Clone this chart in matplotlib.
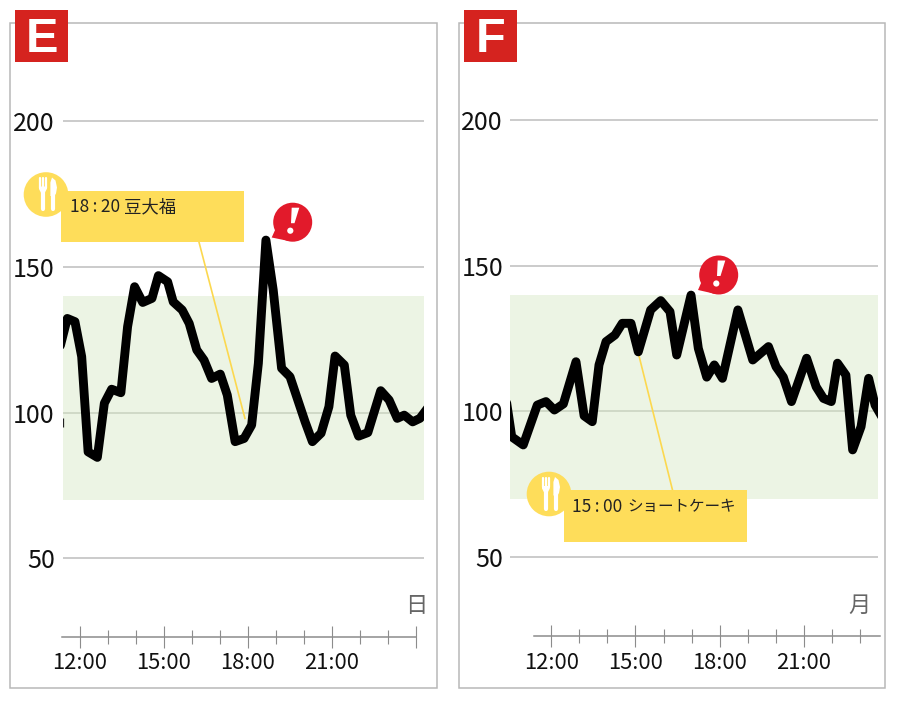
import numpy as np
import matplotlib
matplotlib.use("Agg")
import matplotlib.pyplot as plt
from matplotlib.patches import Circle, Polygon, Rectangle

plt.rcParams['font.family'] = ['Noto Sans CJK JP', 'DejaVu Sans']

# ---- data (hour of day, mg/dL) ----
e_hours = [11.30, 11.546, 11.82, 12.06, 12.29, 12.62, 12.87, 13.13, 13.46, 13.70, 13.95, 14.24, 14.57,
           14.80, 15.13, 15.33, 15.65, 15.90, 16.17, 16.43, 16.70, 17.01, 17.26, 17.54, 17.86, 18.13,
           18.37, 18.64, 18.90, 19.20, 19.50, 20.04, 20.30, 20.61, 20.89, 21.11, 21.44, 21.67, 21.95,
           22.28, 22.74, 23.04, 23.33, 23.58, 23.88, 24.14, 24.5]
e_values = [123, 132.3, 131.2, 119.2, 86.5, 84.6, 103.2, 108, 106.8, 129.5, 143.2, 137.8, 139.2,
            147, 144.9, 138, 135.2, 130.6, 121.5, 118, 111.7, 113.2, 106, 90, 91.1, 95.7,
            116.9, 159.2, 142.1, 115.2, 112.3, 96.8, 90, 92.9, 102, 119.4, 116.3, 99.1, 91.9,
            93.1, 107.5, 104.3, 98, 99.1, 96.8, 98, 102.6]
f_hours = [10.41, 10.59, 11.0, 11.5, 11.81, 12.11, 12.43, 12.88, 13.17, 13.46, 13.70, 13.95, 14.27,
           14.53, 14.84, 15.10, 15.54, 15.90, 16.23, 16.47, 16.98, 17.24, 17.54, 17.81, 18.10, 18.65,
           19.18, 19.74, 20.01, 20.27, 20.56, 21.10, 21.44, 21.70, 21.98, 22.20, 22.50, 22.74, 23.04,
           23.31, 23.54, 23.78]
f_values = [102.9, 91.3, 88.5, 102.2, 103.4, 100.5, 102.6, 117.1, 98.5, 96.5, 116, 124, 126.3,
            130.3, 130.3, 120.5, 134.9, 138.1, 134.3, 119.4, 140, 121.7, 111.8, 116, 111.4, 134.9,
            117.7, 122.3, 115.4, 111.8, 103.4, 118.3, 108.5, 104.5, 103.4, 116.6, 112.5, 86.8, 94.8,
            111.4, 102.2, 98.2]
y_ticks = [50, 100, 150, 200]
target_range = (70, 140)
major_hours = [12, 15, 18, 21]
major_labels = ['12:00', '15:00', '18:00', '21:00']
panel_letters = ['E', 'F']
day_labels = ['日', '月']
meal_times = ['18\u2009:\u200920', '15\u2009:\u200900']
meal_names = ['豆大福', 'ショートケーキ']

W, H = 897, 702
YEL = '#fedd5a'
RED = '#e21a2b'
fig = plt.figure(figsize=(W / 100, H / 100), dpi=100, facecolor='white')


def make_axes(left, right, top, bottom, xlim, ylim, spine_y, bounds, minors, majors, labels, ypad):
    ax = fig.add_axes([left / W, 1 - bottom / H, (right - left) / W, (bottom - top) / H])
    ax.patch.set_alpha(0)
    ax.set_xlim(*xlim)
    ax.set_ylim(*ylim)
    for s in ('top', 'left', 'right'):
        ax.spines[s].set_visible(False)
    sp = ax.spines['bottom']
    sp.set_position(('data', spine_y))
    sp.set_bounds(*bounds)
    sp.set_color('#8c8c8c')
    sp.set_linewidth(1.1)
    ax.set_xticks(majors)
    ax.set_xticklabels(labels, fontsize=15.8, color='#111111')
    ax.set_xticks(minors, minor=True)
    ax.tick_params(axis='x', which='major', direction='inout', length=16.5, width=0.8, color='#8c8c8c', pad=3.2)
    ax.tick_params(axis='x', which='minor', direction='inout', length=9.5, width=0.8, color='#8c8c8c')
    ax.set_yticks(y_ticks)
    ax.set_yticklabels([str(v) for v in y_ticks], fontsize=18, color='#111111')
    ax.tick_params(axis='y', length=0, pad=ypad)
    ax.set_axisbelow(True)
    ax.grid(axis='y', color='#bdbdbd', lw=1.1, zorder=1)
    ax.yaxis.get_gridlines()[1].set_color('#c8d1bf')
    ax.axhspan(*target_range, color='#ecf4e4', lw=0, zorder=0.5)
    return ax


ax_e = make_axes(63, 424, 100, 660, (11.393, 24.286), (15.04, 207.3), 23.1, (11.375, 24.0),
                 [h for h in range(13, 24) if h % 3], major_hours + [24], major_labels + [''], 6)
ax_f = make_axes(510, 878, 100, 660, (10.528, 23.644), (14.6, 207.04), 22.68, (11.37, 23.73),
                 [h for h in range(13, 24) if h % 3], major_hours, major_labels, 5)

# leader lines, anchored on the chart's scales
ax_e.plot([16.25, 17.89], [158.5, 98], color='#fcd84f', lw=1.2, zorder=2, clip_on=False)
ax_f.plot([15.09, 16.32], [120.5, 73], color='#fcd84f', lw=1.2, zorder=2, clip_on=False)

for ax, t, v in ((ax_e, e_hours, e_values), (ax_f, f_hours, f_values)):
    ax.plot(t, v, color='black', lw=6.4, solid_joinstyle='round', solid_capstyle='round', zorder=3)
# small stub at the left edge of panel E
ax_e.vlines(11.40, 95, 98, color='#222222', lw=0.9, zorder=3)

# ---- overlay in pixel coordinates for frames, badges and icons ----
ov = fig.add_axes([0, 0, 1, 1], zorder=10)
ov.set_xlim(0, W)
ov.set_ylim(H, 0)
ov.axis('off')
ov.patch.set_alpha(0)


def frame(x0, x1):
    ov.add_patch(Rectangle((x0, 22.5), x1 - x0, 665.5, fc='none', ec='#b8b8b8', lw=1.1))


def badge(x0, letter):
    ov.add_patch(Rectangle((x0, 9.5), 53.3, 52.8, fc='#d5231f', ec='none'))
    ov.text(x0 + 26.6, 52, letter, color='white', fontsize=35, fontweight='bold', family='Liberation Sans',
            ha='center', va='baseline')


def meal_icon(cx, cy):
    ov.add_patch(Circle((cx, cy), 22.3, fc=YEL, ec='none'))
    for dx in (-6.2, -3.1, 0):
        ov.plot([cx + dx, cx + dx], [cy - 16.5, cy - 7], color='white', lw=1.6, solid_capstyle='round')
    ov.add_patch(Polygon([(cx - 7, cy - 8), (cx + 0.8, cy - 8), (cx + 0.8, cy - 5.5), (cx - 1.3, cy - 1.5),
                          (cx - 4.9, cy - 1.5), (cx - 7, cy - 5.5)], fc='white', ec='none'))
    ov.plot([cx - 3.1, cx - 3.1], [cy - 3, cy + 14.5], color='white', lw=3.0, solid_capstyle='round')
    ov.add_patch(Polygon([(cx + 6, cy - 17), (cx + 9.5, cy - 14), (cx + 11, cy - 7), (cx + 10, cy - 1),
                          (cx + 8.5, cy + 1.5), (cx + 4.4, cy + 1.5), (cx + 4.4, cy - 12)], fc='white', ec='none'))
    ov.plot([cx + 6.5, cx + 6.5], [cy, cy + 14.5], color='white', lw=3.0, solid_capstyle='round')


def alert(cx, cy, tipx, tipy):
    ov.add_patch(Polygon([(tipx, tipy), (cx - 15, cy + 2), (cx - 3, cy + 19)], fc=RED, ec='none'))
    ov.add_patch(Circle((cx, cy), 19.5, fc=RED, ec='none'))
    ov.add_patch(Polygon([(cx - 1, cy - 14.5), (cx + 6.6, cy - 14.5), (cx + 1.8, cy + 1), (cx - 1.7, cy + 1)],
                         fc='white', ec='none', joinstyle='round'))
    ov.add_patch(Circle((cx - 2.4, cy + 8.5), 3.1, fc='white', ec='none'))


def callout(x0, y0, tx, time, nx, name, name_size):
    ov.add_patch(Rectangle((x0, y0), 182.5, 51.7, fc=YEL, ec='none'))
    ov.text(tx, y0 + 17, time, fontsize=12.5, color='#222222', ha='left', va='center')
    ov.text(nx, y0 + 17, name, fontsize=name_size, color='#222222', ha='left', va='center')


frame(10, 436.5)
frame(459, 885)
badge(15, panel_letters[0])
badge(463.7, panel_letters[1])
meal_icon(46, 194.5)
meal_icon(549, 494)
callout(61, 190.5, 69.5, meal_times[0], 124, meal_names[0], 12.5)
callout(564, 490, 572, meal_times[1], 627, meal_names[1], 11.2)
alert(292.7, 222.2, 271.7, 237.5)
alert(718.7, 275, 698, 290)
ov.text(416, 605, day_labels[0], fontsize=16, color='#666666', ha='center', va='center')
ov.text(859.5, 605, day_labels[1], fontsize=16, color='#666666', ha='center', va='center')

fig.savefig('out.png', dpi=100)
